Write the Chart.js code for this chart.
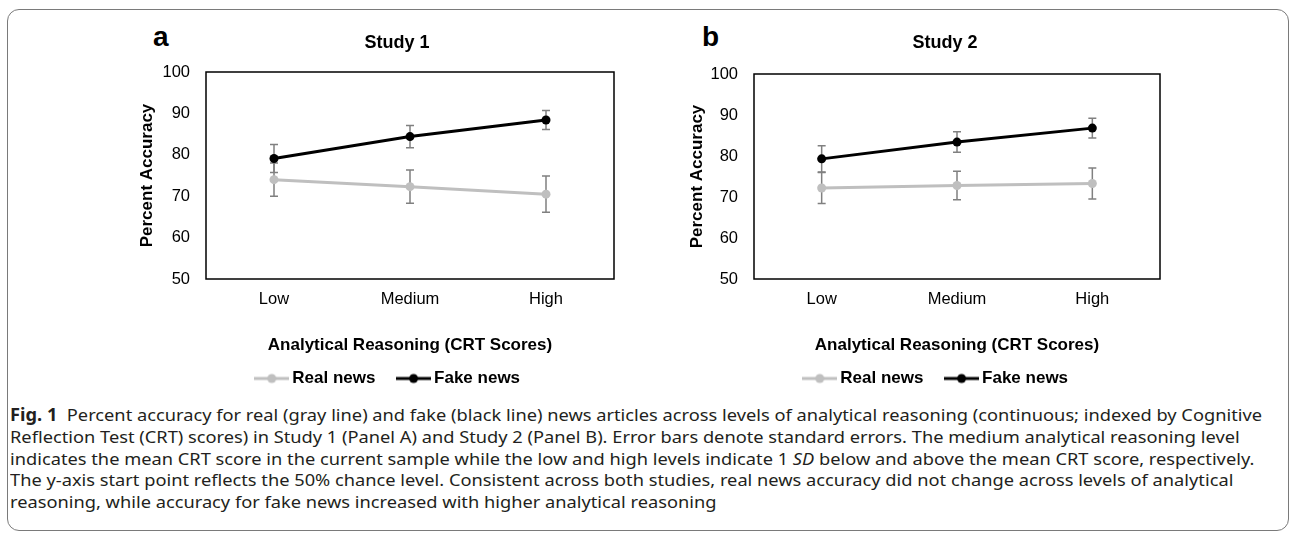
<!DOCTYPE html>
<html>
<head>
<meta charset="utf-8">
<script src="https://cdn.jsdelivr.net/npm/chart.js@4.4.1/dist/chart.umd.min.js"></script>
<style>
    html, body { margin: 0; padding: 0; background: #fff; }
    body { width: 1289px; height: 536px; position: relative; overflow: hidden; font-family: "Liberation Sans", Arial, sans-serif; }
    .frame { position: absolute; left: 7px; top: 9px; width: 1282px; height: 522px; box-sizing: border-box; border: 1px solid #7a7a7a; border-radius: 12px; }
    .panel { position: absolute; top: 15px; }
    #chartA { left: 110px; }
    #chartB { left: 660px; }
    .tag { position: absolute; top: 23px; font: bold 28px "Liberation Sans", Arial, sans-serif; line-height: 28px; color: #000; }
    #caption { position: absolute; left: 10px; top: 404px; font-family: "Noto Sans", sans-serif; font-size: 17px; line-height: 21.8px; color: #231f20; white-space: nowrap; transform-origin: 0 0; }
    #caption .ln { display: block; }
    #caption .ln span { display: inline-block; }
</style>
</head>
<body>
<div class="frame"></div>
<div class="tag" style="left:153px">a</div>
<div class="tag" style="left:702px">b</div>
<canvas id="chartA" class="panel" width="574" height="382"></canvas>
<canvas id="chartB" class="panel" width="570" height="382"></canvas>
<div id="caption">
    <div class="ln"><span id="firstLine"><b>Fig. 1</b>&nbsp; Percent accuracy for real (gray line) and fake (black line) news articles across levels of analytical reasoning (continuous; indexed by Cognitive</span></div>
    <div class="ln">Reflection Test (CRT) scores) in Study 1 (Panel A) and Study 2 (Panel B). Error bars denote standard errors. The medium analytical reasoning level</div>
    <div class="ln">indicates the mean CRT score in the current sample while the low and high levels indicate 1 <i>SD</i> below and above the mean CRT score, respectively.</div>
    <div class="ln">The y-axis start point reflects the 50% chance level. Consistent across both studies, real news accuracy did not change across levels of analytical</div>
    <div class="ln">reasoning, while accuracy for fake news increased with higher analytical reasoning</div>
</div>
<script>
const levels = ['Low', 'Medium', 'High'];
const yTicks = [50, 60, 70, 80, 90, 100];

const study1Real = [74.0, 72.3, 70.5];
const study1RealSE = [4.0, 4.0, 4.4];
const study1Fake = [79.1, 84.4, 88.4];
const study1FakeSE = [3.4, 2.7, 2.3];

const study2Real = [72.2, 72.8, 73.3];
const study2RealSE = [3.8, 3.5, 3.8];
const study2Fake = [79.3, 83.4, 86.8];
const study2FakeSE = [3.2, 2.5, 2.4];

const REAL_COLOR = '#bfbfbf';
const FAKE_COLOR = '#000000';
const FONT = '"Liberation Sans", Arial, sans-serif';

// squeeze the caption to the width of the original column
const firstLine = document.getElementById('firstLine');
const caption = document.getElementById('caption');
caption.style.transform = `scaleX(${1252 / firstLine.getBoundingClientRect().width})`;

// line + marker swatch, like the Excel legend
function legendIcon(color) {
    const c = document.createElement('canvas');
    c.width = 35;
    c.height = 12;
    const g = c.getContext('2d');
    g.strokeStyle = color;
    g.lineWidth = 3;
    g.beginPath();
    g.moveTo(0, 6);
    g.lineTo(35, 6);
    g.stroke();
    g.fillStyle = color;
    g.beginPath();
    g.arc(17.5, 6, 4.5, 0, Math.PI * 2);
    g.fill();
    return c;
}

const icons = { 'Real news': legendIcon(REAL_COLOR), 'Fake news': legendIcon(FAKE_COLOR) };

const plotFrame = {
    id: 'plotFrame',
    beforeDatasetsDraw(chart) {
        const { ctx, chartArea: a } = chart;
        ctx.save();
        ctx.strokeStyle = '#000';
        ctx.lineWidth = 1.5;
        ctx.strokeRect(a.left, a.top, a.right - a.left, a.bottom - a.top);
        ctx.restore();
    }
};

const errorBars = {
    id: 'errorBars',
    beforeDatasetsDraw(chart) {
        const { ctx, scales: { x, y } } = chart;
        ctx.save();
        ctx.strokeStyle = '#808080';
        ctx.lineWidth = 1.5;
        chart.data.datasets.forEach(ds => {
            ds.data.forEach((v, i) => {
                const px = x.getPixelForValue(i);
                const hi = y.getPixelForValue(v + ds.errors[i]);
                const lo = y.getPixelForValue(v - ds.errors[i]);
                ctx.beginPath();
                ctx.moveTo(px, hi); ctx.lineTo(px, lo);
                ctx.moveTo(px - 4, hi); ctx.lineTo(px + 4, hi);
                ctx.moveTo(px - 4, lo); ctx.lineTo(px + 4, lo);
                ctx.stroke();
            });
        });
        ctx.restore();
    }
};

function series(label, values, errors, color) {
    return {
        label: label,
        data: values,
        errors: errors,
        borderColor: color,
        backgroundColor: color,
        borderWidth: 3,
        pointRadius: 4.5,
        pointBorderWidth: 0,
        pointHoverRadius: 4.5,
        tension: 0
    };
}

function buildPanel(id, title, real, realSE, fake, fakeSE, yWidth, titleGap) {
    return new Chart(document.getElementById(id), {
        type: 'line',
        data: {
            labels: levels,
            datasets: [
                series('Real news', real, realSE, REAL_COLOR),
                series('Fake news', fake, fakeSE, FAKE_COLOR)
            ]
        },
        options: {
            responsive: false,
            animation: false,
            events: [],
            layout: { padding: 0 },
            plugins: {
                tooltip: { enabled: false },
                title: {
                    display: true,
                    text: title,
                    color: '#000',
                    font: { family: FONT, size: 18, weight: 'bold' },
                    padding: { top: 17, bottom: titleGap }
                },
                legend: {
                    position: 'bottom',
                    labels: {
                        usePointStyle: true,
                        pointStyleWidth: 24,
                        padding: 12,
                        color: '#000',
                        font: { family: FONT, size: 17, weight: 'bold' },
                        // trailing no-break spaces keep the Excel spacing between and after items
                        generateLabels: chart => chart.data.datasets.map((ds, i) => ({
                            text: ds.label + '\u00a0\u00a0\u00a0',
                            pointStyle: icons[ds.label],
                            datasetIndex: i,
                            fontColor: '#000',
                            fillStyle: ds.borderColor,
                            strokeStyle: ds.borderColor,
                            lineWidth: 0,
                            hidden: false
                        }))
                    }
                }
            },
            scales: {
                x: {
                    offset: true,
                    grid: { display: false, drawTicks: false },
                    border: { display: false },
                    ticks: { color: '#000', padding: 11, font: { family: FONT, size: 16.5 } },
                    title: {
                        display: true,
                        text: 'Analytical Reasoning (CRT Scores)',
                        color: '#000',
                        font: { family: FONT, size: 17, weight: 'bold' },
                        padding: { top: 0, bottom: 2 }
                    },
                    afterFit: s => { s.height = 79; }
                },
                y: {
                    min: yTicks[0],
                    max: yTicks[yTicks.length - 1],
                    grid: { display: false, drawTicks: false },
                    border: { display: false },
                    ticks: { stepSize: yTicks[1] - yTicks[0], color: '#000', padding: 16, font: { family: FONT, size: 16.5 } },
                    title: {
                        display: true,
                        text: 'Percent Accuracy',
                        color: '#000',
                        font: { family: FONT, size: 17, weight: 'bold' },
                        padding: { top: 26.8, bottom: 0 }
                    },
                    afterFit: s => { s.width = yWidth; }
                },
                pad: {
                    position: 'right',
                    grid: { display: false },
                    border: { display: false },
                    ticks: { display: false },
                    afterFit: s => { s.width = 70; }
                }
            }
        },
        plugins: [plotFrame, errorBars]
    });
}

buildPanel('chartA', 'Study 1', study1Real, study1RealSE, study1Fake, study1FakeSE, 96, 18.4);
buildPanel('chartB', 'Study 2', study2Real, study2RealSE, study2Fake, study2FakeSE, 94, 20.4);
</script>
</body>
</html>
